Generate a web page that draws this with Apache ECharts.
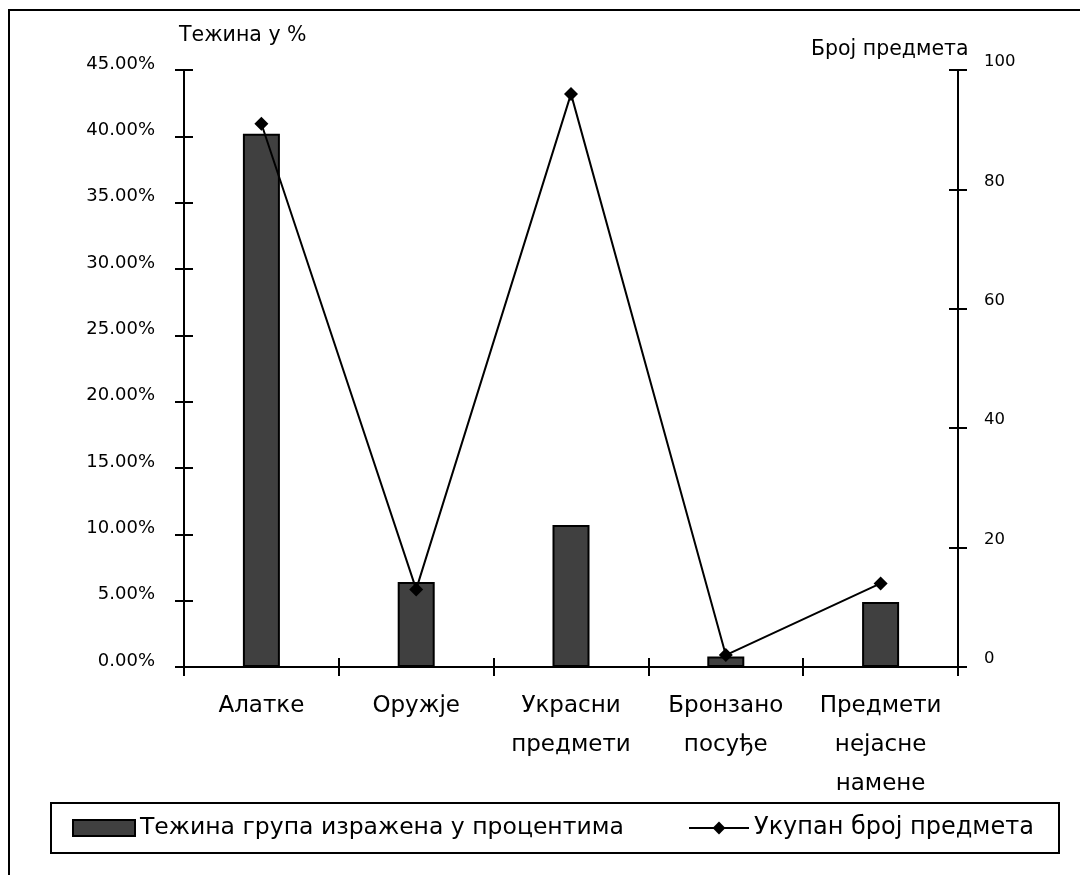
<!DOCTYPE html>
<html>
<head>
<meta charset="utf-8">
<style>
  html, body { margin: 0; padding: 0; background: #fff; }
  #main { width: 1080px; height: 875px; }
</style>
<script src="https://cdn.jsdelivr.net/npm/echarts@6/dist/echarts.min.js"></script>
</head>
<body>
<div id="main"></div>
<script>
var categories = ['Алатке', 'Оружје', 'Украсни\nпредмети', 'Бронзано\nпосуђе', 'Предмети\nнејасне\nнамене']
var weightPct = [40.2, 6.4, 10.7, 0.8, 4.9]   // Тежина група (%)
var itemCount = [91, 13, 96, 2, 14]          // Укупан број предмета

var barName = 'Тежина група изражена у процентима'
var lineName = 'Укупан број предмета'
var font = 'DejaVu Sans'

var chart = echarts.init(document.getElementById('main'))

// ticks that cross the axis line: one axis draws them outside, a twin draws them inside
var tickLine = { color: '#000', width: 2 }

chart.setOption({
  animation: false,
  backgroundColor: '#fff',
  textStyle: { fontFamily: font, color: '#000' },
  title: [
    { text: 'Тежина у %', left: 174, top: 20, textStyle: { fontFamily: font, fontSize: 20.5, fontWeight: 'normal', color: '#000' } },
    { text: 'Број предмета', left: 806, top: 34, textStyle: { fontFamily: font, fontSize: 20.5, fontWeight: 'normal', color: '#000' } }
  ],
  graphic: [
    // outer frame
    { type: 'rect', shape: { x: 9, y: 10, width: 1100, height: 900 }, style: { fill: 'none', stroke: '#000', lineWidth: 2 }, silent: true },
    // legend frame
    { type: 'rect', shape: { x: 51, y: 803, width: 1008, height: 50 }, style: { fill: 'none', stroke: '#000', lineWidth: 2 }, silent: true }
  ],
  legend: [
    {
      data: [{ name: barName, icon: 'rect' }], left: 72, top: 816, padding: 0,
      itemWidth: 62, itemHeight: 16,
      textStyle: { fontFamily: font, fontSize: 23.5, color: '#000' }
    },
    {
      data: [lineName], left: 688, top: 816, padding: 0,
      itemWidth: 60, itemHeight: 16,
      textStyle: { fontFamily: font, fontSize: 24, color: '#000' }
    }
  ],
  grid: { left: 184, right: 122, top: 70, bottom: 208 },
  xAxis: [
    {
      type: 'category', data: categories, position: 'bottom',
      axisLine: { lineStyle: tickLine },
      axisTick: { show: true, interval: 0, length: 9, lineStyle: tickLine },
      axisLabel: { interval: 0, fontFamily: font, fontSize: 23, color: '#000', lineHeight: 39, margin: 20 },
      splitLine: { show: false }
    },
    {
      type: 'category', data: categories, position: 'bottom',
      axisLine: { show: false },
      axisTick: { show: true, inside: true, interval: 0, length: 9, lineStyle: tickLine },
      axisLabel: { show: false }, splitLine: { show: false }
    },
    {
      type: 'category', data: categories, position: 'top',
      axisLine: { lineStyle: tickLine },
      axisTick: { show: false }, axisLabel: { show: false }, splitLine: { show: false }
    }
  ],
  yAxis: [
    {
      type: 'value', position: 'left', min: 0, max: 45, interval: 5,
      axisLine: { show: true, lineStyle: tickLine },
      axisTick: { show: true, length: 9, lineStyle: tickLine },
      axisLabel: {
        fontFamily: font, fontSize: 18, color: '#000', margin: 29,
        verticalAlign: 'bottom', lineHeight: 12,
        formatter: function (v) { return v.toFixed(2) + '%' }
      },
      splitLine: { show: false }
    },
    {
      type: 'value', position: 'right', min: 0, max: 100, interval: 20,
      axisLine: { show: true, lineStyle: tickLine },
      axisTick: { show: true, length: 9, lineStyle: tickLine },
      axisLabel: { fontFamily: font, fontSize: 16.5, color: '#000', margin: 26, verticalAlign: 'bottom', lineHeight: 16 },
      splitLine: { show: false }
    },
    {
      type: 'value', position: 'left', min: 0, max: 45, interval: 5,
      axisLine: { show: false },
      axisTick: { show: true, inside: true, length: 9, lineStyle: tickLine },
      axisLabel: { show: false }, splitLine: { show: false }
    },
    {
      type: 'value', position: 'right', min: 0, max: 100, interval: 20,
      axisLine: { show: false },
      axisTick: { show: true, inside: true, length: 9, lineStyle: tickLine },
      axisLabel: { show: false }, splitLine: { show: false }
    }
  ],
  series: [
    {
      name: barName, type: 'bar', data: weightPct,
      xAxisIndex: 0, yAxisIndex: 0, barWidth: 37,
      itemStyle: { color: '#404040', borderColor: '#000', borderWidth: 2 }
    },
    {
      name: lineName, type: 'line', data: itemCount,
      xAxisIndex: 0, yAxisIndex: 1,
      symbol: 'diamond', symbolSize: 14,
      itemStyle: { color: '#000' },
      lineStyle: { color: '#000', width: 2 },
      z: 5
    }
  ]
})
</script>
</body>
</html>
